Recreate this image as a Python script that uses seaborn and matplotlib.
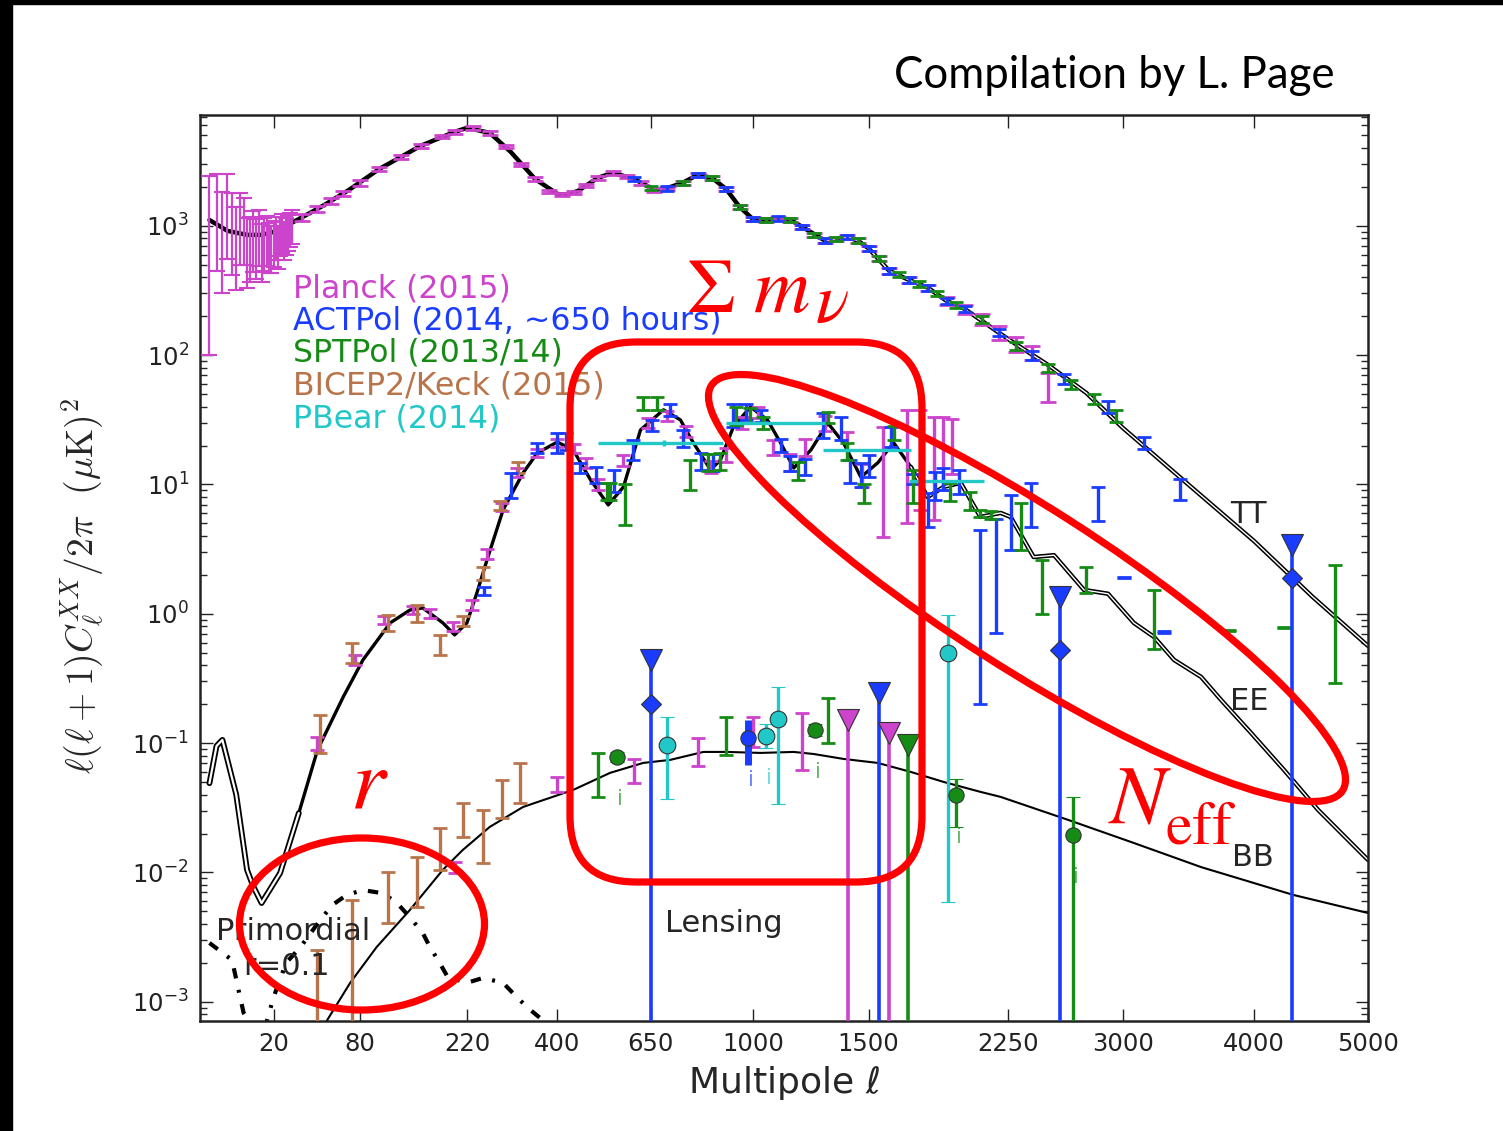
import numpy as np
import matplotlib
matplotlib.use("Agg")
import matplotlib.pyplot as plt
import seaborn as sns
from matplotlib.patches import Ellipse, FancyBboxPatch, Rectangle
from matplotlib.transforms import IdentityTransform

# ---------------- theory curves ----------------
tt_ell = np.array([2, 5, 10, 15, 20, 30, 40, 50, 70, 100, 125, 150, 200, 220, 260, 300, 350, 400, 420,
                   450, 500, 540, 600, 650, 675, 750, 800, 850, 900, 950, 1000, 1050, 1100, 1150, 1200,
                   1300, 1400, 1450, 1500, 1600, 1700, 1800, 1900, 2000, 2250, 2500, 2750, 3000, 3500,
                   4000, 4500, 5000])
tt_val = np.array([1110, 915, 852, 852, 899, 1074, 1260, 1453, 1898, 2760, 3420, 4155, 5330, 5725, 5240,
                   3730, 2310, 1767, 1737, 1865, 2350, 2570, 2310, 1967, 1865, 2150, 2480, 2350, 1931,
                   1403, 1129, 1113, 1139, 1113, 982, 766, 822, 766, 670, 450, 382, 332, 263, 228, 134,
                   84, 51, 27.4, 9.6, 3.66, 1.35, 0.565])

ee_ell = np.array([2, 3, 4, 7, 10, 12, 15, 23, 33, 45, 65, 83, 112, 136, 153, 182, 200, 220, 237, 255,
                   285, 325, 355, 400, 438, 481, 528, 570, 619, 689, 743, 786, 845, 880, 927, 991, 1057,
                   1110, 1164, 1237, 1311, 1382, 1463, 1544, 1623, 1710, 1798, 1884, 1978, 2090, 2208,
                   2268, 2409, 2538, 2734, 2897, 3078, 3224, 3372, 3578, 3734, 3976, 4252, 4548, 5000])
ee_val = np.array([0.049, 0.095, 0.106, 0.04, 0.0105, 0.0078, 0.0058, 0.0099, 0.0288, 0.0886, 0.228,
                   0.44, 0.851, 1.07, 1.11, 0.85, 0.687, 0.85, 1.45, 2.61, 6.36, 12.3, 17.5, 21.3, 18.5,
                   10.9, 6.95, 9.58, 26.4, 37.8, 31.6, 21.0, 13.0, 15.5, 27.9, 39.8, 31.6, 21.0, 13.4,
                   18.5, 29.9, 21.0, 11.4, 14.7, 21.0, 13.7, 8.0, 9.58, 10.3, 5.61, 6.03, 5.61, 2.75,
                   2.84, 1.53, 1.43, 0.851, 0.662, 0.44, 0.325, 0.216, 0.12, 0.062, 0.0304, 0.0125])

bb_ell = np.array([45, 52, 71, 97, 136, 182, 213, 260, 325, 438, 533, 627, 710, 820, 906, 1030, 1164,
                   1249, 1382, 1544, 1710, 1884, 2090, 2208, 2629, 3078, 3578, 4332, 5000])
bb_val = np.array([5e-4, 7.2e-4, 1.40e-3, 2.65e-3, 5.13e-3, 0.0105, 0.0149, 0.0225, 0.0321, 0.0435,
                   0.0589, 0.0703, 0.0742, 0.0855, 0.0855, 0.084, 0.0855, 0.0824, 0.0755, 0.0703,
                   0.0599, 0.0501, 0.042, 0.0384, 0.0255, 0.0169, 0.0110, 0.0067, 0.00486])

prim_ell = np.array([2, 6, 8, 9, 13, 17, 20, 26, 34, 47, 56, 68, 83, 104, 120, 136, 153, 163, 177, 189,
                     220, 248, 285, 304, 333, 361, 420])
prim_val = np.array([2.85e-3, 2.1e-3, 1.09e-3, 8.2e-4, 6e-4, 7e-4, 1.09e-3, 2.0e-3, 2.65e-3, 4.3e-3,
                     5.6e-3, 6.7e-3, 7.3e-3, 6.9e-3, 5.8e-3, 4.5e-3, 3.4e-3, 2.65e-3, 2.0e-3, 1.56e-3,
                     1.40e-3, 1.53e-3, 1.40e-3, 1.17e-3, 9.1e-4, 7.5e-4, 4e-4])

# ---------------- Planck ----------------
pl_low_ell = np.arange(2, 30)
pl_low_val = np.array([250, 1000, 720, 1200, 900, 700, 1000, 950, 650, 700, 800, 700, 850, 650, 750, 800,
                       700, 680, 750, 820, 700, 850, 900, 780, 850, 900, 950, 1000])
pl_low_lo = np.array([150, 550, 420, 650, 480, 380, 500, 450, 320, 330, 360, 310, 360, 280, 300, 310,
                      270, 250, 270, 280, 240, 270, 280, 240, 250, 260, 260, 270])
pl_low_hi = np.array([2200, 1500, 1100, 1300, 900, 700, 800, 700, 500, 480, 500, 430, 480, 380, 400, 400,
                      350, 320, 340, 350, 300, 330, 340, 290, 300, 310, 310, 320])

pl_tt_ell = np.array([35, 45, 55, 65, 80, 100, 125, 150, 180, 200, 230, 260, 290, 320, 350, 380, 410,
                      440, 470, 500, 540, 580, 620, 660, 700, 750, 800, 850, 900, 950, 1000, 1050, 1100,
                      1150, 1200, 1250, 1300, 1350, 1400, 1450, 1500, 1550, 1600, 1700, 1800, 1900,
                      2000, 2100, 2200, 2300, 2400, 2500])
pl_tt_val = np.array([1170, 1350, 1560, 1780, 2150, 2760, 3420, 4155, 4900, 5330, 5700, 5240, 4100,
                      3000, 2310, 1850, 1750, 1820, 2050, 2350, 2570, 2420, 2150, 1900, 1950, 2150,
                      2480, 2350, 1930, 1400, 1130, 1110, 1140, 1110, 980, 850, 770, 790, 820, 770,
                      670, 560, 450, 382, 332, 263, 228, 190, 150, 122, 105, 58])
pl_tt_frac = np.array([0.06, 0.06, 0.05, 0.05, 0.05, 0.04, 0.04, 0.04, 0.03, 0.03, 0.03, 0.03, 0.03,
                       0.03, 0.03, 0.03, 0.03, 0.03, 0.03, 0.03, 0.03, 0.03, 0.03, 0.03, 0.03, 0.03,
                       0.03, 0.03, 0.03, 0.03, 0.03, 0.03, 0.03, 0.03, 0.03, 0.04, 0.04, 0.04, 0.04,
                       0.04, 0.04, 0.05, 0.05, 0.06, 0.06, 0.07, 0.08, 0.1, 0.12, 0.14, 0.12, 0.25])

pl_ee_ell = np.array([45, 75, 105, 140, 163, 197, 228, 255, 283, 313, 355, 400, 440, 470, 500, 570, 640,
                      700, 760, 845, 900, 960, 1020, 1080, 1150, 1210, 1300, 1400, 1470, 1570, 1690,
                      1760, 1830, 1880, 1930])
pl_ee_val = np.array([0.1, 0.44, 0.9, 1.07, 1.0, 0.8, 1.17, 2.9, 6.7, 12.5, 17.5, 21, 19, 14.7, 10,
                      15.5, 30, 34, 26, 13.7, 17, 30, 36, 19.5, 15, 19.5, 30, 22, 12, 10.4, 14, 15.5,
                      13, 17, 20])
pl_ee_lo = np.array([0.012, 0.04, 0.07, 0.08, 0.08, 0.07, 0.1, 0.25, 0.5, 1, 1.3, 1.5, 1.4, 1.2, 1,
                     1.5, 2.5, 3, 2.5, 1.5, 2, 3, 3.5, 2.5, 2.2, 3, 4, 3.5, 2.5, 6.5, 9, 9.2, 7.7, 7.9, 8])
pl_ee_hi = np.array([0.012, 0.04, 0.07, 0.08, 0.08, 0.07, 0.1, 0.25, 0.5, 1, 1.3, 1.5, 1.4, 1.2, 1,
                     1.5, 2.5, 3, 2.5, 1.5, 2, 3, 3.5, 2.5, 2.2, 3, 4, 3.5, 2.5, 17.5, 24, 22, 20, 16, 12])

pl_bb_ell = np.array([200, 400, 600, 800, 1000, 1200])
pl_bb_val = np.array([0.011, 0.048, 0.061, 0.086, 0.122, 0.103])
pl_bb_lo = np.array([0.0011, 0.006, 0.012, 0.019, 0.028, 0.041])
pl_bb_hi = np.array([0.001, 0.0068, 0.0145, 0.024, 0.038, 0.068])
pl_bb_lim_ell = np.array([1405, 1599])
pl_bb_lim_val = np.array([0.151, 0.12])

# ---------------- ACTPol ----------------
act_tt_ell = np.array([600, 700, 800, 900, 1000, 1100, 1200, 1300, 1400, 1500, 1600, 1700, 1800, 1900,
                       2000, 2200, 2400, 2600, 2900, 3150, 3420])
act_tt_val = np.array([2310, 1950, 2480, 1930, 1130, 1140, 980, 770, 820, 670, 450, 382, 332, 263, 228,
                       150, 100, 66, 40, 21, 9.3])
act_tt_frac = np.array([0.04, 0.04, 0.04, 0.04, 0.04, 0.04, 0.04, 0.04, 0.04, 0.05, 0.05, 0.05, 0.05,
                        0.06, 0.06, 0.07, 0.08, 0.09, 0.1, 0.1, 0.19])

act_ee_ell = np.array([250, 300, 355, 400, 420, 455, 495, 545, 598, 654, 710, 753, 812, 855, 927, 975,
                       1030, 1110, 1150, 1210, 1290, 1370, 1410, 1463, 1500, 1610, 1720, 1800, 1840,
                       1880, 1970, 2090, 2180, 2270, 2390, 2830, 3010, 3300])
act_ee_val = np.array([1.5, 9.8, 19, 21, 21, 13.5, 12, 10.6, 18.5, 28.5, 38, 23, 15, 14.8, 34, 36, 34,
                       20, 14.5, 13.6, 29, 27, 12.6, 11.8, 14, 23, 11, 6.4, 9.8, 11, 10.5, 1.0, 2.0,
                       5.1, 7.0, 7.1, 1.9, 0.72])
act_ee_lo = np.array([0.1, 1.9, 1.5, 3.5, 2.5, 1.2, 1.7, 1.8, 3, 2.7, 4, 3.5, 2, 2, 6, 4.4, 3.5, 2.3,
                      1.8, 1.8, 6, 5, 2.3, 2.3, 2.5, 3.5, 1, 1.7, 2.2, 2, 2, 0.8, 1.29, 2.0, 2.3, 1.9,
                      0.02, 0.01])
act_ee_hi = np.array([0.1, 2.5, 2, 4, 4, 1.2, 1.7, 2.3, 3.5, 3.1, 4, 3.4, 2.5, 2.5, 8, 6, 4, 2.6, 2.2,
                      2.2, 7, 6, 2.9, 2.8, 3, 5, 1, 2.2, 2.7, 2.5, 2.5, 3.46, 3.4, 3.2, 3.3, 2.5, 0.02,
                      0.01])

act_bb_ell = np.array([650, 2578, 4316])
act_bb_val = np.array([0.201, 0.526, 1.9])
act_bb_lim = np.array([0.44, 1.35, 3.41])
act_bbc_ell = np.array([983])
act_bbc_val = np.array([0.11])
act_bbc_lo = np.array([0.042])
act_bbc_hi = np.array([0.041])
act_bb_lim2_ell = np.array([1548])
act_bb_lim2_val = np.array([0.244])

# ---------------- SPTPol ----------------
spt_tt_ell = np.array([650, 750, 850, 950, 1050, 1150, 1250, 1350, 1450, 1550, 1650, 1750, 1850, 1950,
                       2100, 2300, 2500, 2650, 2800, 2950])
spt_tt_val = np.array([1967, 2150, 2350, 1400, 1110, 1110, 850, 790, 770, 560, 420, 355, 300, 245, 190,
                       118, 80, 60, 46, 34])
spt_tt_frac = np.array([0.04, 0.04, 0.04, 0.04, 0.04, 0.04, 0.04, 0.04, 0.04, 0.05, 0.05, 0.05, 0.05,
                        0.06, 0.06, 0.07, 0.07, 0.08, 0.09, 0.1])

spt_ee_ell = np.array([525, 533, 575, 627, 670, 775, 835, 880, 935, 990, 1040, 1180, 1310, 1400, 1480,
                       1623, 1720, 1920, 2030, 2090, 2150, 2330, 2460, 2750, 3220, 3800, 4250, 4700])
spt_ee_val = np.array([8.8, 8.8, 7.0, 42, 42, 12, 14.8, 15, 34, 34, 30, 12.6, 33, 18, 8.5, 25, 9.7, 8.7,
                       7.5, 6.0, 5.8, 4.8, 1.6, 1.8, 0.9, 0.74, 0.78, 0.8])
spt_ee_lo = np.array([1.2, 1.2, 2.1, 4.2, 4.2, 2.9, 2, 2, 5, 4, 3, 1.8, 3, 2.5, 1.3, 3, 2.5, 1.3, 1.1,
                      0.4, 0.4, 1.7, 0.6, 0.35, 0.37, 0.01, 0.01, 0.51])
spt_ee_hi = np.array([1.5, 1.5, 3, 5.6, 5.6, 3.5, 2.5, 2.5, 6, 5, 3.5, 2.2, 3.5, 3, 1.5, 3.5, 3.3, 1.6,
                      1.3, 0.4, 0.4, 2.4, 1.0, 0.5, 0.64, 0.01, 0.01, 1.59])

spt_bb_ell = np.array([501, 900, 1311])
spt_bb_val = np.array([0.057, 0.114, 0.15])
spt_bb_lo = np.array([0.0186, 0.033, 0.05])
spt_bb_hi = np.array([0.027, 0.046, 0.074])
spt_bbc_ell = np.array([552, 1256, 1950, 2661])
spt_bbc_val = np.array([0.078, 0.126, 0.0398, 0.0195])
spt_bbc_lo = np.array([0.006, 0.012, 0.0174, 0.019499])
spt_bbc_hi = np.array([0.007, 0.014, 0.0132, 0.019])
spt_bb_lim_ell = np.array([1694])
spt_bb_lim_val = np.array([0.097])

# ---------------- BICEP2/Keck ----------------
bk_ee_ell = np.array([47, 73, 109, 145, 177, 213, 248, 280, 315])
bk_ee_val = np.array([0.12, 0.5, 0.85, 1.0, 0.58, 0.88, 2.05, 6.9, 13.5])
bk_ee_lo = np.array([0.036, 0.083, 0.11, 0.135, 0.1, 0.08, 0.22, 0.6, 1.2])
bk_ee_hi = np.array([0.045, 0.096, 0.13, 0.17, 0.107, 0.08, 0.25, 0.6, 1.5])

bk_bb_ell = np.array([45, 73, 109, 145, 177, 213, 248, 283, 319])
bk_bb_val = np.array([1.0e-3, 2.0e-3, 6.4e-3, 8.4e-3, 0.015, 0.0255, 0.019, 0.037, 0.05])
bk_bb_lo = np.array([9.99e-4, 1.999e-3, 2.3e-3, 3e-3, 4.6e-3, 6.7e-3, 7.1e-3, 0.0106, 0.0155])
bk_bb_hi = np.array([1.5e-3, 4.1e-3, 3.7e-3, 4.8e-3, 7.1e-3, 9e-3, 0.0115, 0.0149, 0.0203])

# ---------------- POLARBEAR ----------------
pb_ee_ell = np.array([690, 1100, 1500, 1900])
pb_ee_val = np.array([21, 29.9, 18.5, 10.7])
pb_ee_xlo = np.array([190, 200, 210, 200])
pb_ee_xhi = np.array([200, 200, 210, 208])
pb_ee_yerr = np.array([1.2, 0.2, 0.2, 0.2])

pb_bb_ell = np.array([700, 1053, 1100, 1906])
pb_bb_val = np.array([0.097, 0.114, 0.154, 0.5])
pb_bb_lo = np.array([0.06, 0.0225, 0.12, 0.4941])
pb_bb_hi = np.array([0.061, 0.026, 0.116, 0.48])

xtick_vals = [20, 80, 220, 400, 650, 1000, 1500, 2250, 3000, 4000, 5000]
ytick_vals = [1e-3, 1e-2, 1e-1, 1e0, 1e1, 1e2, 1e3]
ytick_labels = [r"$10^{-3}$", r"$10^{-2}$", r"$10^{-1}$", r"$10^{0}$", r"$10^{1}$", r"$10^{2}$",
                r"$10^{3}$"]
legend_labels = ["Planck (2015)", "ACTPol (2014, ~650 hours)", "SPTPol (2013/14)",
                 "BICEP2/Keck (2015)", "PBear (2014)"]

PL, ACT, SPT, BK, PB = "#CC44CC", "#1A3CFF", "#168C16", "#B8744A", "#22C8C8"
legend_colors = [PL, ACT, SPT, BK, PB]

sns.set_style("ticks")
plt.rcParams.update({
    "xtick.direction": "in", "ytick.direction": "in",
    "xtick.top": True, "ytick.right": True,
    "axes.unicode_minus": False,
    "axes.edgecolor": "#222222",
})
plt.rcParams["font.family"] = ["DejaVu Sans"]

W, H = 1503, 1131
fig = plt.figure(figsize=(W / 100, H / 100), dpi=100)
ax = fig.add_axes([200 / W, 1 - 1021 / H, 1168 / W, 906 / H])


def fwd(x):
    return np.power(np.clip(x, 0, None), 0.45)


def inv(y):
    return np.power(np.clip(y, 0, None), 1 / 0.45)


ax.set_xscale("function", functions=(fwd, inv))
ax.set_yscale("log")

# theory curves
sns.lineplot(x=tt_ell, y=tt_val, color="k", lw=3.2, ax=ax, sort=False, zorder=2)
hi_t = tt_ell >= 1300
ax.plot(tt_ell[hi_t], tt_val[hi_t], color="w", lw=1.0, zorder=2.1)
sns.lineplot(x=ee_ell, y=ee_val, color="k", lw=2.4, ax=ax, sort=False, zorder=2)
lo_e = ee_ell <= 33
ax.plot(ee_ell[lo_e], ee_val[lo_e], color="k", lw=4.2, zorder=2)
ax.plot(ee_ell[lo_e], ee_val[lo_e], color="w", lw=1.6, zorder=2.1)
hi_e = ee_ell >= 1700
ax.plot(ee_ell[hi_e], ee_val[hi_e], color="k", lw=3.2, zorder=2)
ax.plot(ee_ell[hi_e], ee_val[hi_e], color="w", lw=1.0, zorder=2.1)
sns.lineplot(x=bb_ell, y=bb_val, color="k", lw=1.5, ax=ax, sort=False, zorder=2)
ax.plot(prim_ell, prim_val, color="k", lw=3.0, ls=(0, (2.5, 2.8, 0.7, 2.8)), zorder=2)

bar = dict(fmt="none", elinewidth=2.4, capsize=5, capthick=2, zorder=3)


def bars(ell, val, lo, hi, color, **kw):
    opts = dict(bar)
    opts.update(kw)
    ax.errorbar(ell, val, yerr=[lo, hi], ecolor=color, **opts)


# TT
bars(pl_low_ell, pl_low_val, pl_low_lo, pl_low_hi, PL, elinewidth=1.6, capthick=1.5, capsize=6)
bars(pl_tt_ell, pl_tt_val, pl_tt_val * pl_tt_frac, pl_tt_val * pl_tt_frac, PL, capsize=6)
bars(act_tt_ell, act_tt_val, act_tt_val * act_tt_frac, act_tt_val * act_tt_frac, ACT)
bars(spt_tt_ell, spt_tt_val, spt_tt_val * spt_tt_frac, spt_tt_val * spt_tt_frac, SPT)

# EE
bars(pl_ee_ell, pl_ee_val, pl_ee_lo, pl_ee_hi, PL)
bars(bk_ee_ell, bk_ee_val, bk_ee_lo, bk_ee_hi, BK)
bars(act_ee_ell, act_ee_val, act_ee_lo, act_ee_hi, ACT)
bars(spt_ee_ell, spt_ee_val, spt_ee_lo, spt_ee_hi, SPT)
ax.errorbar(pb_ee_ell, pb_ee_val, xerr=[pb_ee_xlo, pb_ee_xhi], yerr=pb_ee_yerr, fmt="none",
            ecolor=PB, elinewidth=2.4, capsize=0, zorder=3)

# BB
bars(bk_bb_ell, bk_bb_val, bk_bb_lo, bk_bb_hi, BK)
bars(pl_bb_ell, pl_bb_val, pl_bb_lo, pl_bb_hi, PL)
bars(spt_bb_ell, spt_bb_val, spt_bb_lo, spt_bb_hi, SPT)

mk = dict(mec="#333333", mew=0.8, elinewidth=2.4, capsize=5, capthick=2, zorder=4)
ax.errorbar(pb_bb_ell, pb_bb_val, yerr=[pb_bb_lo, pb_bb_hi], fmt="o", ms=12, color=PB, **mk)
ax.errorbar(spt_bbc_ell, spt_bbc_val, yerr=[spt_bbc_lo, spt_bbc_hi], fmt="o", ms=11, color=SPT, **mk)
ax.errorbar(act_bbc_ell, act_bbc_val, yerr=[act_bbc_lo, act_bbc_hi], fmt="o", ms=11, color=ACT,
            mec="#333333", mew=0.8, elinewidth=5, capsize=0, zorder=4)

# upper limits: triangle with a line running off the bottom of the plot
for ell, val, c in [(pl_bb_lim_ell, pl_bb_lim_val, PL), (spt_bb_lim_ell, spt_bb_lim_val, SPT),
                    (act_bb_lim2_ell, act_bb_lim2_val, ACT)]:
    ax.errorbar(ell, val, yerr=[val * 0.99999, np.zeros_like(val)], fmt="v", ms=16, color=c,
                mec="#333333", mew=0.8, elinewidth=2.6, capsize=0, zorder=4)
ax.errorbar(act_bb_ell, act_bb_val, yerr=[act_bb_val * 0.99999, act_bb_lim - act_bb_val], fmt="D",
            ms=10, color=ACT, mec="#333333", mew=0.8, elinewidth=2.6, capsize=0, zorder=4)
ax.plot(act_bb_ell, act_bb_lim, "v", ms=16, color=ACT, mec="#333333", mew=0.8, zorder=4)

# little "i" glyphs under the circle points
for ell, val, c in [(spt_bbc_ell, spt_bbc_val, SPT), (act_bbc_ell, act_bbc_val, ACT),
                    (pb_bb_ell[1:2], pb_bb_val[1:2], PB)]:
    for e, v in zip(ell, val):
        ax.annotate("i", (e, v), xytext=(3, -42), textcoords="offset pixels", ha="center",
                    va="center", fontsize=15, color=c, alpha=0.65, zorder=4)

ax.set_xlim(1, 5000)
ax.set_ylim(7.1e-4, 7.2e3)
ax.set_xticks(xtick_vals)
ax.set_xticklabels([str(v) for v in xtick_vals])
ax.minorticks_off()
ax.set_yticks(ytick_vals)
ax.set_yticklabels(ytick_labels)
ax.yaxis.set_minor_locator(matplotlib.ticker.FixedLocator(
    [m * 10.0 ** d for d in range(-4, 4) for m in range(2, 10) if 7.1e-4 <= m * 10.0 ** d <= 7.2e3]))
ax.yaxis.set_minor_formatter(matplotlib.ticker.NullFormatter())
ax.tick_params(which="major", length=9, width=1.0, labelsize=17.5, pad=8, colors="#222222")
ax.tick_params(which="minor", length=5, width=1.0)
for s in ax.spines.values():
    s.set_linewidth(1.8)

ax.set_xlabel(r"Multipole $\ell$", fontsize=26)
ax.xaxis.set_label_coords(0.5, -0.048)
ax.set_ylabel(r"$\ell(\ell+1)C_\ell^{XX}/2\pi\ \ (\mu{\rm K})^2$", fontsize=27,
              math_fontfamily="cm")
ax.yaxis.set_label_coords(-0.08, 0.48)


def fx(px):
    return px / W


def fy(py):
    return 1 - py / H


for i, (lab, c) in enumerate(zip(legend_labels, legend_colors)):
    fig.text(fx(293), fy(297 + 32.5 * i), lab, color=c, fontsize=22.7, va="baseline")

fig.text(fx(1230), fy(523), "TT", fontsize=22, va="baseline")
fig.text(fx(1230), fy(710), "EE", fontsize=22, va="baseline")
fig.text(fx(1232), fy(866), "BB", fontsize=22, va="baseline")
fig.text(fx(665), fy(932), "Lensing", fontsize=22, va="baseline")
fig.text(fx(216), fy(940), "Primordial", fontsize=22, va="baseline")
fig.text(fx(243), fy(975), "r=0.1", fontsize=22, va="baseline")

fig.text(fx(1335), fy(75), "Compilation by L. Page", fontsize=31.5, family="Lato",
         color="k", ha="right", va="center")

# red hand annotations
fig.text(fx(686), fy(312), r"$\Sigma\ m$", color="red", fontsize=56, math_fontfamily="stix",
         va="baseline")
fig.text(fx(815), fy(322), r"$\nu$", color="red", fontsize=50, math_fontfamily="stix",
         va="baseline")
fig.text(fx(350), fy(808), r"$r$", color="red", fontsize=64, math_fontfamily="stix", va="baseline")
fig.text(fx(1108), fy(823), r"$N$", color="red", fontsize=60, math_fontfamily="stix",
         va="baseline")
fig.text(fx(1165), fy(843), r"$\mathrm{eff}$", color="red", fontsize=43, math_fontfamily="stix",
         va="baseline")

idt = IdentityTransform()
fig.add_artist(FancyBboxPatch((570, H - 882), 352, 540, boxstyle="round,pad=0,rounding_size=66",
                              transform=idt, fill=False, ec="red", lw=5.2, zorder=10))
fig.add_artist(Ellipse((1027, H - 588), 750, 160, angle=-32.7, transform=idt, fill=False,
                       ec="red", lw=5.2, zorder=10))
fig.add_artist(Ellipse((362, H - 924), 245, 172, angle=0, transform=idt, fill=False,
                       ec="red", lw=5.2, zorder=10))

# black slide edges
fig.add_artist(Rectangle((0, 0), 12 / W, 1, transform=fig.transFigure, color="k", zorder=20))
fig.add_artist(Rectangle((0, 1 - 4 / H), 1, 4 / H, transform=fig.transFigure, color="k", zorder=20))

fig.savefig("out.png", dpi=100)
